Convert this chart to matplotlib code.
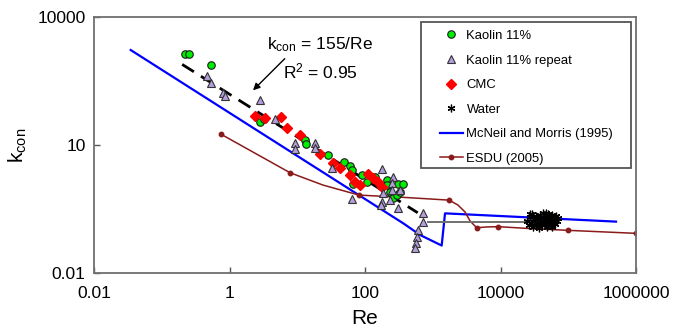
import matplotlib
matplotlib.use("Agg")
import matplotlib.pyplot as plt
from matplotlib.patches import Rectangle

plt.rcParams['font.family'] = ['Liberation Sans', 'DejaVu Sans']
plt.rcParams['mathtext.default'] = 'regular'

# Kaolin 11%
kaolin_re = [0.22, 0.255, 0.533, 2.82, 3.23, 13.2, 13.5, 28.4, 49, 60, 63.7, 66.5, 89.4,
             106, 141, 209, 209, 234, 262, 294, 310, 364, 329]
kaolin_k = [1356, 1356, 750, 34.6, 40.6, 13.4, 10.5, 5.82, 4.06, 3.22, 2.59, 1.19, 1.98,
            1.38, 1.81, 1.51, 1.15, 0.80, 0.56, 0.67, 1.22, 1.19, 0.80]

# Kaolin 11% repeat
repeat_re = [0.46, 0.533, 0.79, 0.86, 2.82, 4.7, 9.27, 9.27, 18, 18, 32.2, 65.3, 176, 262,
             248, 248, 329, 176, 172, 310, 726, 715, 612, 592, 560, 548, 184, 234]
repeat_k = [425, 288, 170, 141, 113, 40.6, 11.0, 8.05, 11.3, 8.36, 2.84, 0.54, 2.81, 1.78,
            1.27, 0.88, 0.88, 0.47, 0.39, 0.33, 0.25, 0.16, 0.102, 0.071, 0.051, 0.038, 0.75, 0.51]

# CMC
cmc_re = [2.38, 3.34, 5.66, 6.98, 11, 21.7, 33.4, 42.8, 60, 71.2, 84.3, 111, 133, 157, 176]
cmc_k = [47.8, 42.2, 45.3, 25, 17.1, 6.15, 3.72, 2.84, 1.98, 1.38, 1.15, 2.09, 1.66, 1.38, 1.05]

# Water
water_re = [25000, 26000, 27000, 28000, 29500, 30000, 31500, 33000, 34000, 35000, 36500, 38000,
            39000, 40000, 41500, 43000, 44000, 45000, 46500, 48000, 49000, 50000, 52000, 53000,
            55000, 56000, 58000, 60000, 62000, 64000, 66000, 68000, 70000, 27500, 37000, 47000,
            57000, 32000, 42000, 51000]
water_k = [0.17, 0.13, 0.21, 0.15, 0.24, 0.12, 0.18, 0.22, 0.14, 0.19, 0.125, 0.23, 0.16, 0.2,
           0.13, 0.25, 0.17, 0.14, 0.22, 0.12, 0.19, 0.24, 0.15, 0.21, 0.13, 0.18, 0.23, 0.16,
           0.2, 0.14, 0.22, 0.17, 0.19, 0.24, 0.115, 0.25, 0.12, 0.145, 0.21, 0.135]

# McNeil and Morris (1995)
mcneil_re = [0.0348, 367, 649, 1355, 1517, 507000]
mcneil_k = [1683, 0.146, 0.078, 0.044, 0.25, 0.16]

# ESDU (2005)
esdu_re = [0.74, 7.82, 24, 81.5, 389, 1755, 2360, 2990, 3550, 4450, 6320, 9190, 27200, 99100, 1000000]
esdu_k = [18.1, 2.24, 1.15, 0.67, 0.59, 0.51, 0.39, 0.27, 0.166, 0.115, 0.12, 0.122, 0.11, 0.10, 0.085]
esdu_marks = [0, 1, 3, 5, 9, 11, 13, 14]

# grey reference line and power-law fit k = 155/Re
grey_re = [860, 24600]
grey_k = [0.16, 0.16]
fit_re = [0.2, 600]
fit_k = [155 / r for r in fit_re]

xticks = [0.01, 1, 100, 10000, 1000000]
yticks = [0.01, 10, 10000]

fig = plt.figure(figsize=(6.8, 3.32), dpi=100)
ax = fig.add_axes([94 / 680, 59 / 332, 542 / 680, 256 / 332])

ax.plot(mcneil_re, mcneil_k, color='#0000ff', lw=1.6, label='McNeil and Morris (1995)', zorder=2)
ax.plot(esdu_re, esdu_k, color='#8b1a1a', lw=1.1, marker='o', ms=3.2, markevery=esdu_marks,
        label='ESDU (2005)', zorder=2)
ax.plot(grey_re, grey_k, color='#707070', lw=1.4, zorder=2)
ax.plot(fit_re, fit_k, color='black', lw=2.0, dashes=(5, 3), zorder=4)

ax.plot(kaolin_re, kaolin_k, ls='none', marker='o', ms=5.4, mfc='#00ee00', mec='#1a1a1a',
        mew=0.8, label='Kaolin 11%', zorder=5)
ax.plot(repeat_re, repeat_k, ls='none', marker='^', ms=6.0, mfc='#b39ddb', mec='#333333',
        mew=0.8, label='Kaolin 11% repeat', zorder=6)
ax.plot(cmc_re, cmc_k, ls='none', marker='D', ms=5.2, mfc='#ff0000', mec='#ff0000',
        label='CMC', zorder=5)
ax.plot(water_re, water_k, ls='none', marker=(6, 2, 0), ms=5.5, color='black', mew=0.9,
        label='Water', zorder=5)

ax.set_xscale('log')
ax.set_yscale('log')
ax.set_xlim(0.01, 1000000)
ax.set_ylim(0.01, 10000)
ax.set_xticks(xticks)
ax.set_xticklabels(['0.01', '1', '100', '10000', '1000000'])
ax.set_yticks(yticks)
ax.set_yticklabels(['0.01', '10', '10000'])
ax.minorticks_off()
ax.tick_params(direction='in', length=4, width=1, color='#555555', labelsize=12.5)
ax.tick_params(axis='x', pad=9)
ax.tick_params(axis='y', pad=6)
for s in ax.spines.values():
    s.set_color('#707070')
    s.set_linewidth(1.3)

ax.set_xlabel('Re', fontsize=15, labelpad=6)
ax.set_ylabel('k$_{con}$', fontsize=15, labelpad=6)

ax.text(22, 2205, 'k$_{con}$ = 155/Re', fontsize=12.5, ha='center', va='center')
ax.text(22, 542, 'R$^2$ = 0.95', fontsize=12.5, ha='center', va='center')
ax.annotate('', xy=(2.08, 172), xytext=(6.99, 1173),
            arrowprops=dict(arrowstyle='-|>', color='black', lw=1.0, mutation_scale=10))

# legend box
ax.add_patch(Rectangle((0.603, 0.41), 0.388, 0.57, transform=ax.transAxes, fill=False,
                       edgecolor='#555555', lw=1.3, zorder=7))
handles, labels = ax.get_legend_handles_labels()
order = [2, 3, 4, 5, 0, 1]
ax.legend([handles[i] for i in order], [labels[i] for i in order], loc='upper left',
          bbox_to_anchor=(0.633, 0.960), frameon=False, fontsize=9.4, labelspacing=0.95,
          handlelength=1.75, handletextpad=0.3, borderpad=0.2, borderaxespad=0)

fig.savefig('out.png', dpi=100)
